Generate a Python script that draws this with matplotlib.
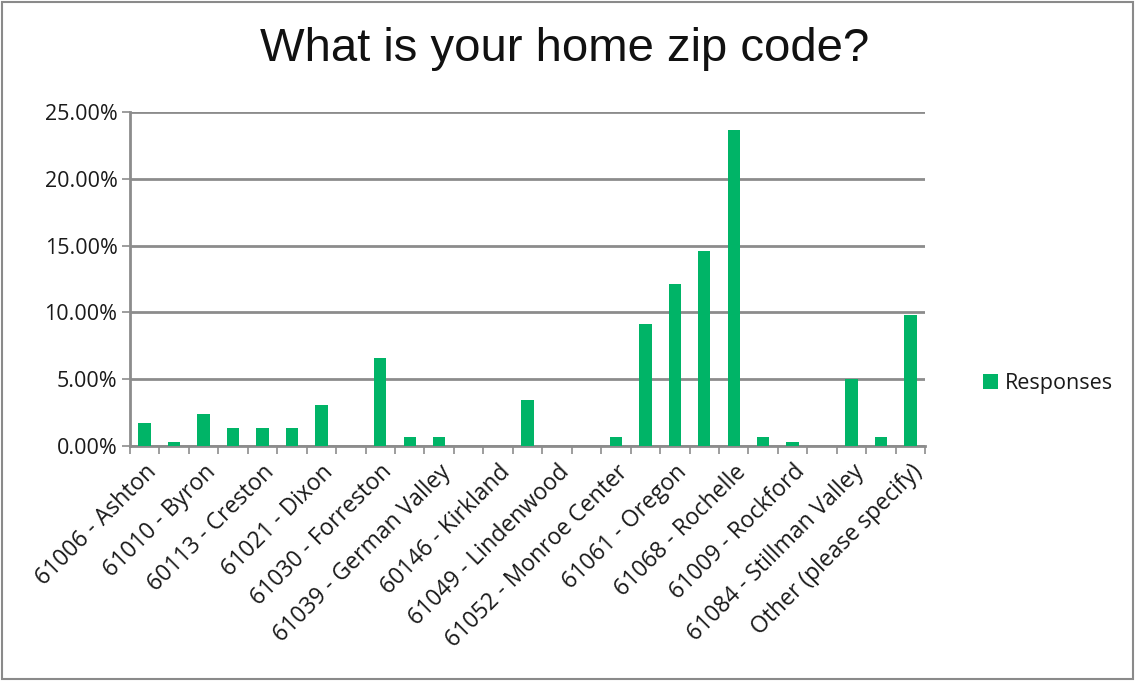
import matplotlib.pyplot as plt
import numpy as np
from matplotlib.patches import Rectangle
from matplotlib.ticker import PercentFormatter

# survey categories (only every other one is labelled on the chart)
categories = ['61006 - Ashton', '61007 - Baileyville', '61010 - Byron', '61015 - Chana',
              '60113 - Creston', '61020 - Davis Junction', '61021 - Dixon', '60129 - Esmond',
              '61030 - Forreston', '61031 - Franklin Grove', '61039 - German Valley',
              '61043 - Holcomb', '60146 - Kirkland', '61047 - Leaf River', '61049 - Lindenwood',
              '60150 - Malta', '61052 - Monroe Center', '61054 - Mount Morris', '61061 - Oregon',
              '61064 - Polo', '61068 - Rochelle', '61101 - Rockford', '61009 - Rockford',
              '60553 - Steward', '61084 - Stillman Valley', '61091 - Woosung',
              'Other (please specify)']
responses = [1.70, 0.33, 2.40, 1.33, 1.33, 1.33, 3.10, 0.0, 6.60, 0.67, 0.67, 0.0, 0.0, 3.44,
             0.0, 0.0, 0.67, 9.10, 12.10, 14.60, 23.65, 0.67, 0.33, 0.0, 5.00, 0.67, 9.80]

green = '#00b467'
grid_col = '#8c8c8c'
txt_col = '#1a1a1a'

fig = plt.figure(figsize=(11.36, 6.81), dpi=100)
ax = fig.add_axes([0.1144, 0.345, 0.7, 0.4905])

x = np.arange(len(categories))
ax.bar(x, responses, width=0.42, color=green, label='Responses', zorder=3)

ax.set_xlim(-0.5, len(categories) - 0.5)
ax.set_ylim(0, 25)
ax.set_yticks(np.arange(0, 26, 5))
ax.yaxis.set_major_formatter(PercentFormatter(decimals=2))
ax.grid(axis='y', color=grid_col, linewidth=2, zorder=0)

# ticks between categories, labels on every other category
ax.set_xticks(np.arange(-0.5, len(categories)), minor=False)
ax.set_xticklabels([])
ax.tick_params(axis='x', which='major', length=6, width=1.2, color=grid_col)
ax.set_xticks(x[::2], minor=True)
ax.set_xticklabels(categories[::2], minor=True, rotation=45, ha='right',
                   rotation_mode='anchor', fontsize=16.5, family='Open Sans', color=txt_col)
ax.tick_params(axis='x', which='minor', length=0, pad=10)
ax.tick_params(axis='y', length=6, width=1.2, color=grid_col, labelsize=15.5, pad=3,
               labelcolor=txt_col)
for lab in ax.get_yticklabels():
    lab.set_family('Open Sans')

for s in ['top', 'right']:
    ax.spines[s].set_visible(False)
for s in ['left', 'bottom']:
    ax.spines[s].set_color(grid_col)
    ax.spines[s].set_linewidth(2)

fig.text(0.497, 0.928, 'What is your home zip code?', ha='center', va='center',
         fontsize=34, family='Liberation Sans', color='#111111')

leg = fig.legend(loc='center left', bbox_to_anchor=(0.848, 0.437), frameon=False,
                 handlelength=0.7, handleheight=0.7, handletextpad=0.35,
                 prop={'family': 'Open Sans', 'size': 15.5})
for t in leg.get_texts():
    t.set_color(txt_col)

fig.add_artist(Rectangle((0.002, 0.003), 0.995, 0.994, transform=fig.transFigure,
                         fill=False, edgecolor='#8a8a8a', linewidth=1.5))

fig.savefig('out.png', dpi=100)
